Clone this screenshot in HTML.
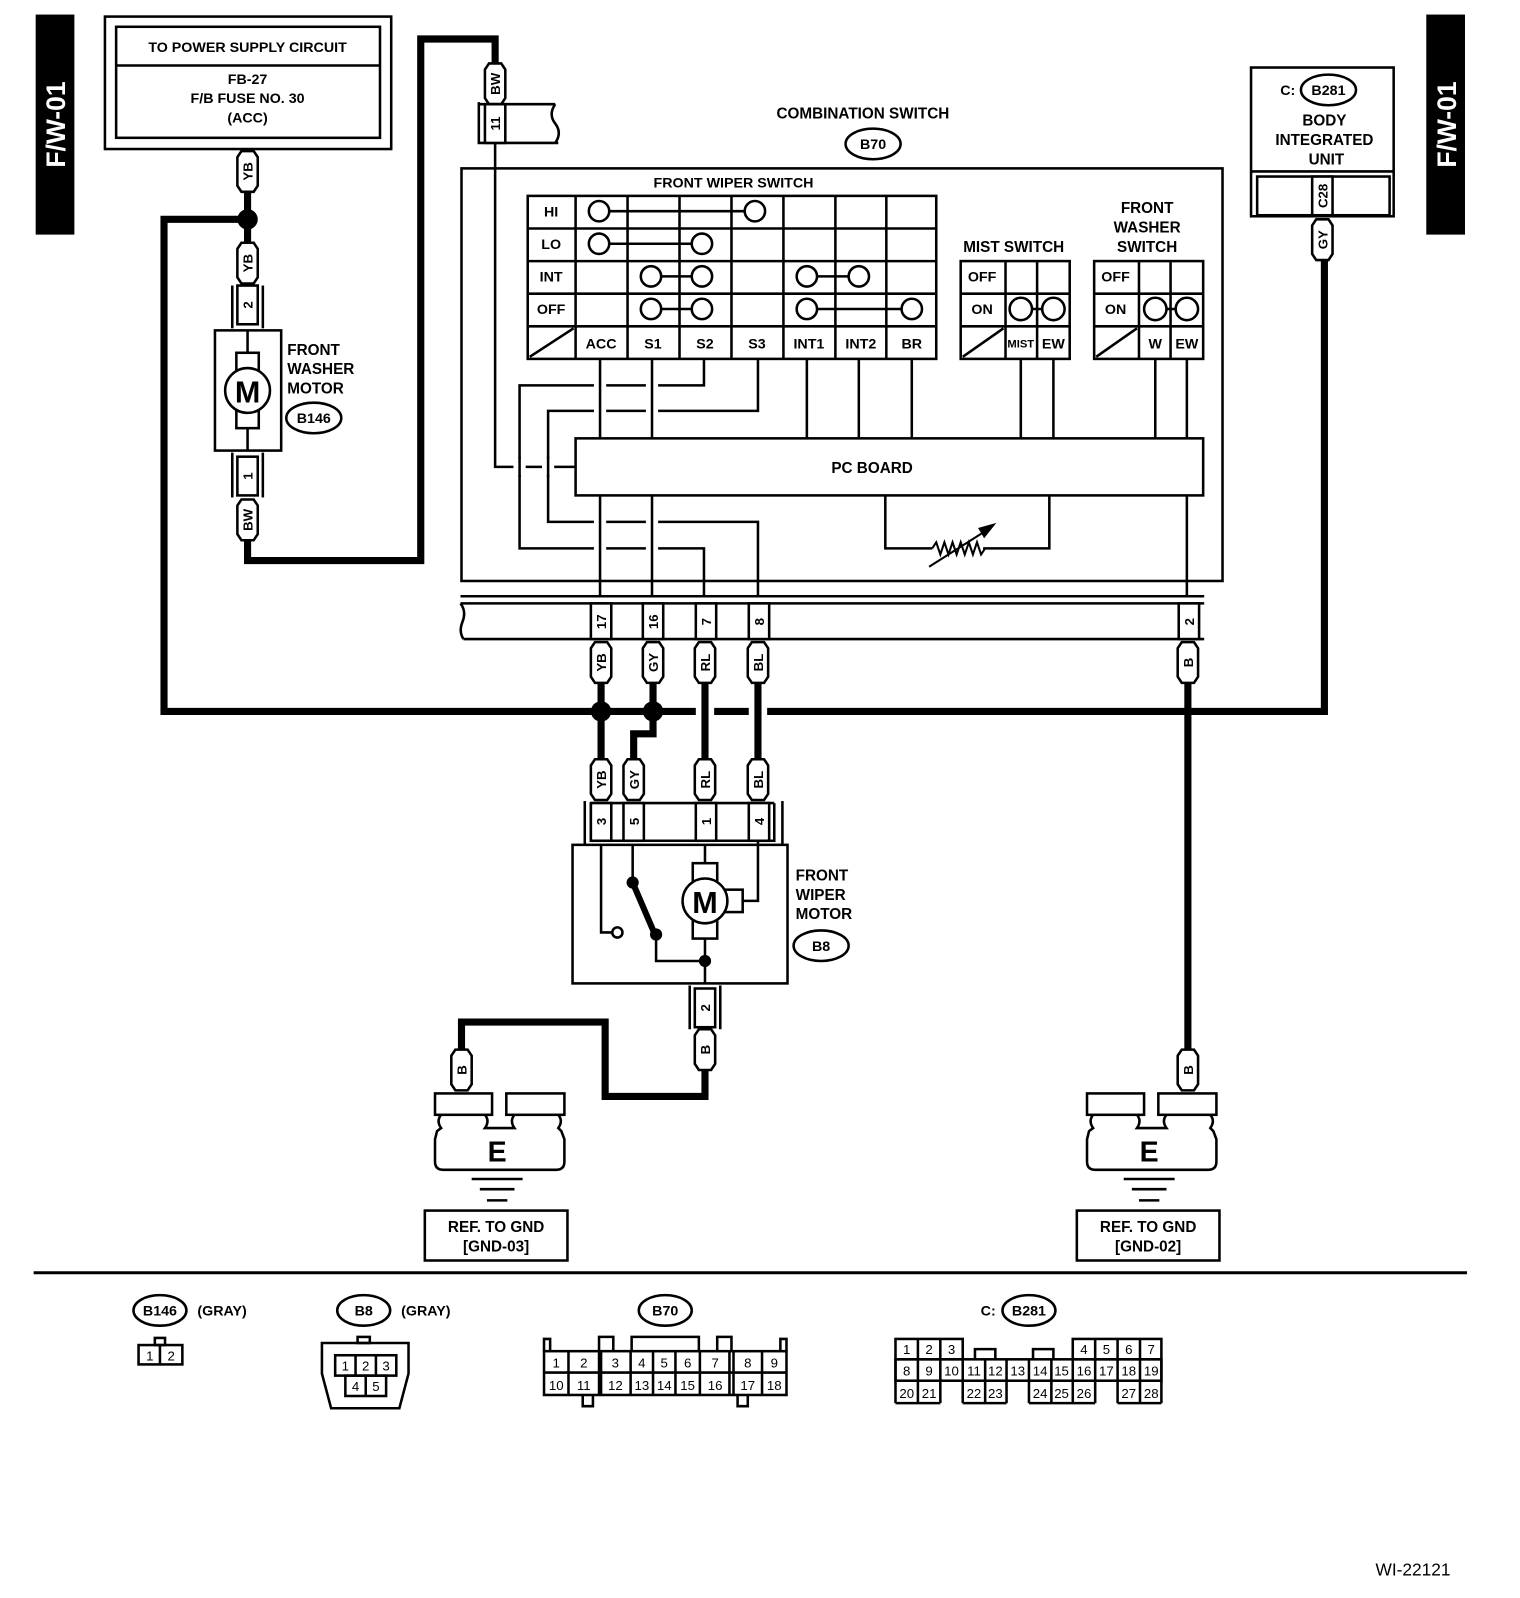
<!DOCTYPE html>
<html><head><meta charset="utf-8"><style>
html,body{margin:0;padding:0;background:#fff;}
svg{display:block;}
text{font-family:"Liberation Sans",Arial,sans-serif;fill:#000;}
text:not([font-weight]){font-weight:bold;}
g[font-weight="normal"] text{font-weight:normal;}
.t{stroke:#000;stroke-width:2.5;fill:none;}
.k{stroke:#000;stroke-width:7;fill:none;}
.h{stroke:#fff;stroke-width:12;fill:none;}
.bx{stroke:#000;stroke-width:2.5;fill:#fff;}
</style></head><body>
<svg width="1520" height="1598" viewBox="0 0 1492 1568" xmlns="http://www.w3.org/2000/svg">
<defs>
<path id="tag" d="M-10,-14 L-6,-20 L6,-20 L10,-14 L10,14 L6,20 L-6,20 L-10,14Z" fill="#fff" stroke="#000" stroke-width="2.5"/>
</defs>

<rect x="35" y="14" width="38" height="216" fill="#000"/>
<text transform="translate(64,122) rotate(-90)" text-anchor="middle" font-size="26" style="fill:#fff">F/W-01</text>
<rect x="1400" y="14" width="38" height="216" fill="#000"/>
<text transform="translate(1429,122) rotate(-90)" text-anchor="middle" font-size="26" style="fill:#fff">F/W-01</text>

<rect x="103" y="16" width="281" height="130" class="t"/>
<rect x="114" y="26" width="259" height="109" class="t"/>
<line x1="114" y1="64" x2="373" y2="64" class="t"/>
<text x="243" y="51" text-anchor="middle" font-size="14">TO POWER SUPPLY CIRCUIT</text>
<text x="243" y="82" text-anchor="middle" font-size="14">FB-27</text>
<text x="243" y="101" text-anchor="middle" font-size="14">F/B FUSE NO. 30</text>
<text x="243" y="120" text-anchor="middle" font-size="14">(ACC)</text>

<polyline points="243,188 243,240" class="k"/>
<polyline points="243,215 161,215 161,698 1300,698 1300,255" class="k"/>
<polyline points="243,530 243,550 413,550 413,38 486,38 486,62" class="k"/>
<circle cx="243" cy="215" r="10" fill="#000"/>

<g transform="translate(243,168)"><use href="#tag"/><text transform="rotate(-90)" y="5" text-anchor="middle" font-size="13">YB</text></g>
<g transform="translate(243,258)"><use href="#tag"/><text transform="rotate(-90)" y="5" text-anchor="middle" font-size="13">YB</text></g>

<line x1="228" y1="280" x2="228" y2="322" class="t"/><line x1="258" y1="280" x2="258" y2="322" class="t"/>
<rect x="233" y="280" width="20" height="38" class="bx"/>
<text transform="translate(248,299) rotate(-90)" text-anchor="middle" font-size="13">2</text>
<rect x="211" y="324" width="65" height="118" class="t"/>
<line x1="243" y1="324" x2="243" y2="442" class="t"/>
<rect x="232" y="346" width="22" height="74" class="bx"/>
<circle cx="243" cy="383" r="22" class="bx"/>
<text x="243" y="395" text-anchor="middle" font-size="30">M</text>
<line x1="228" y1="444" x2="228" y2="488" class="t"/><line x1="258" y1="444" x2="258" y2="488" class="t"/>
<rect x="233" y="448" width="20" height="38" class="bx"/>
<text transform="translate(248,467) rotate(-90)" text-anchor="middle" font-size="13">1</text>
<g transform="translate(243,510)"><use href="#tag"/><text transform="rotate(-90)" y="5" text-anchor="middle" font-size="13">BW</text></g>
<text x="282" y="348" font-size="15">FRONT</text>
<text x="282" y="367" font-size="15">WASHER</text>
<text x="282" y="386" font-size="15">MOTOR</text>
<ellipse cx="308" cy="410" rx="27" ry="15" class="t"/>
<text x="308" y="415" text-anchor="middle" font-size="14">B146</text>

<g transform="translate(486,82)"><use href="#tag"/><text transform="rotate(-90)" y="5" text-anchor="middle" font-size="13">BW</text></g>
<polyline points="470,100 470,140 548,140" class="t"/>
<line x1="470" y1="102" x2="545" y2="102" class="t"/>
<path d="M545,102 Q538,112 545,121 Q552,130 545,140" class="t"/>
<rect x="476" y="102" width="20" height="38" class="bx"/>
<text transform="translate(491,121) rotate(-90)" text-anchor="middle" font-size="13">11</text>

<text x="847" y="116" text-anchor="middle" font-size="15">COMBINATION SWITCH</text>
<ellipse cx="857" cy="141" rx="27" ry="15" class="t"/>
<text x="857" y="146" text-anchor="middle" font-size="14">B70</text>
<rect x="453" y="165" width="747" height="405" class="t"/>

<text x="720" y="184" text-anchor="middle" font-size="14">FRONT WIPER SWITCH</text>
<rect x="518" y="192" width="401" height="160" class="t" stroke-width="3"/>
<g class="t">
<line x1="565" y1="192" x2="565" y2="352"/><line x1="616" y1="192" x2="616" y2="352"/>
<line x1="667" y1="192" x2="667" y2="352"/><line x1="718" y1="192" x2="718" y2="352"/>
<line x1="769" y1="192" x2="769" y2="352"/><line x1="820" y1="192" x2="820" y2="352"/>
<line x1="870" y1="192" x2="870" y2="352"/>
<line x1="518" y1="224" x2="919" y2="224"/><line x1="518" y1="256" x2="919" y2="256"/>
<line x1="518" y1="288" x2="919" y2="288"/><line x1="518" y1="320" x2="919" y2="320"/>
<line x1="520" y1="350" x2="563" y2="322"/>
<line x1="588" y1="207" x2="741" y2="207"/><line x1="588" y1="239" x2="689" y2="239"/>
<line x1="639" y1="271" x2="689" y2="271"/><line x1="792" y1="271" x2="843" y2="271"/>
<line x1="639" y1="303" x2="689" y2="303"/><line x1="792" y1="303" x2="895" y2="303"/>
</g>
<g class="bx">
<circle cx="588" cy="207" r="10"/><circle cx="741" cy="207" r="10"/>
<circle cx="588" cy="239" r="10"/><circle cx="689" cy="239" r="10"/>
<circle cx="639" cy="271" r="10"/><circle cx="689" cy="271" r="10"/>
<circle cx="792" cy="271" r="10"/><circle cx="843" cy="271" r="10"/>
<circle cx="639" cy="303" r="10"/><circle cx="689" cy="303" r="10"/>
<circle cx="792" cy="303" r="10"/><circle cx="895" cy="303" r="10"/>
</g>
<g font-size="14" text-anchor="middle">
<text x="541" y="212">HI</text><text x="541" y="244">LO</text>
<text x="541" y="276">INT</text><text x="541" y="308">OFF</text>
<text x="590" y="342">ACC</text><text x="641" y="342">S1</text><text x="692" y="342">S2</text>
<text x="743" y="342">S3</text><text x="794" y="342">INT1</text><text x="845" y="342">INT2</text><text x="895" y="342">BR</text>
</g>

<g class="t">
<polyline points="691,352 691,378 510,378 510,538 691,538 691,585"/>
<polyline points="744,352 744,403 538,403 538,512 744,512 744,585"/>
<polyline points="486,140 486,458 565,458"/>
<line x1="792" y1="352" x2="792" y2="430"/><line x1="843" y1="352" x2="843" y2="430"/><line x1="895" y1="352" x2="895" y2="430"/>
<line x1="1002" y1="352" x2="1002" y2="430"/><line x1="1034" y1="352" x2="1034" y2="430"/>
<line x1="1134" y1="352" x2="1134" y2="430"/><line x1="1165" y1="352" x2="1165" y2="430"/>
<line x1="1165" y1="486" x2="1165" y2="585"/>
<polyline points="869,486 869,538 915,538"/>
<polyline points="965,538 1030,538 1030,486"/>
<polyline points="915,538 919,532 923,544 927,532 931,544 935,532 939,544 943,532 947,544 951,532 955,544 959,532 963,544 967,538" stroke-width="2"/>
<line x1="912" y1="556" x2="972" y2="518" stroke-width="2"/>
</g>
<polygon points="978,513 960,518 966,528" fill="#000"/>
<g class="h">
<line x1="589" y1="370" x2="589" y2="410"/><line x1="640" y1="370" x2="640" y2="410"/>
<line x1="589" y1="505" x2="589" y2="545"/><line x1="640" y1="505" x2="640" y2="545"/>
<line x1="510" y1="450" x2="510" y2="466"/><line x1="538" y1="450" x2="538" y2="466"/>
</g>
<g class="t">
<line x1="589" y1="352" x2="589" y2="430"/><line x1="640" y1="352" x2="640" y2="430"/>
<line x1="589" y1="486" x2="589" y2="585"/><line x1="640" y1="486" x2="640" y2="585"/>
<line x1="510" y1="448" x2="510" y2="468"/><line x1="538" y1="448" x2="538" y2="468"/>
</g>
<rect x="565" y="430" width="616" height="56" class="bx"/>
<text x="856" y="464" text-anchor="middle" font-size="15">PC BOARD</text>

<text x="995" y="247" text-anchor="middle" font-size="15">MIST SWITCH</text>
<rect x="943" y="256" width="107" height="96" class="t" stroke-width="3"/>
<g class="t">
<line x1="987" y1="256" x2="987" y2="352"/><line x1="1018" y1="256" x2="1018" y2="352"/>
<line x1="943" y1="288" x2="1050" y2="288"/><line x1="943" y1="320" x2="1050" y2="320"/>
<line x1="945" y1="350" x2="985" y2="322"/><line x1="1002" y1="303" x2="1034" y2="303"/>
</g>
<circle cx="1002" cy="303" r="11" class="bx"/><circle cx="1034" cy="303" r="11" class="bx"/>
<text x="964" y="276" text-anchor="middle" font-size="14">OFF</text>
<text x="964" y="308" text-anchor="middle" font-size="14">ON</text>
<text x="1002" y="341" text-anchor="middle" font-size="11">MIST</text>
<text x="1034" y="342" text-anchor="middle" font-size="14">EW</text>

<text x="1126" y="209" text-anchor="middle" font-size="15">FRONT</text>
<text x="1126" y="228" text-anchor="middle" font-size="15">WASHER</text>
<text x="1126" y="247" text-anchor="middle" font-size="15">SWITCH</text>
<rect x="1074" y="256" width="107" height="96" class="t" stroke-width="3"/>
<g class="t">
<line x1="1118" y1="256" x2="1118" y2="352"/><line x1="1149" y1="256" x2="1149" y2="352"/>
<line x1="1074" y1="288" x2="1181" y2="288"/><line x1="1074" y1="320" x2="1181" y2="320"/>
<line x1="1076" y1="350" x2="1116" y2="322"/><line x1="1134" y1="303" x2="1165" y2="303"/>
</g>
<circle cx="1134" cy="303" r="11" class="bx"/><circle cx="1165" cy="303" r="11" class="bx"/>
<text x="1095" y="276" text-anchor="middle" font-size="14">OFF</text>
<text x="1095" y="308" text-anchor="middle" font-size="14">ON</text>
<text x="1134" y="342" text-anchor="middle" font-size="14">W</text>
<text x="1165" y="342" text-anchor="middle" font-size="14">EW</text>

<rect x="1228" y="66" width="140" height="146" class="t"/>
<line x1="1228" y1="168" x2="1368" y2="168" class="t"/>
<rect x="1234" y="173" width="130" height="38" class="t"/>
<rect x="1288" y="173" width="20" height="38" class="bx"/>
<text transform="translate(1303,192) rotate(-90)" text-anchor="middle" font-size="13">C28</text>
<text x="1264" y="93" text-anchor="middle" font-size="14">C:</text>
<ellipse cx="1304" cy="88" rx="27" ry="15" class="t"/>
<text x="1304" y="93" text-anchor="middle" font-size="14">B281</text>
<text x="1300" y="123" text-anchor="middle" font-size="15">BODY</text>
<text x="1300" y="142" text-anchor="middle" font-size="15">INTEGRATED</text>
<text x="1302" y="161" text-anchor="middle" font-size="15">UNIT</text>
<g transform="translate(1298,235)"><use href="#tag"/><text transform="rotate(-90)" y="5" text-anchor="middle" font-size="13">GY</text></g>

<path d="M452,585 L1182,585 M452,592 L1182,592 M455,627 L1182,627" class="t"/>
<path d="M452,592 Q458,600 454,610 Q450,620 455,627" class="t"/>
<g>
<rect x="580" y="592" width="20" height="35" class="bx"/><text transform="translate(595,610) rotate(-90)" text-anchor="middle" font-size="13">17</text>
<rect x="631" y="592" width="20" height="35" class="bx"/><text transform="translate(646,610) rotate(-90)" text-anchor="middle" font-size="13">16</text>
<rect x="683" y="592" width="20" height="35" class="bx"/><text transform="translate(698,610) rotate(-90)" text-anchor="middle" font-size="13">7</text>
<rect x="735" y="592" width="20" height="35" class="bx"/><text transform="translate(750,610) rotate(-90)" text-anchor="middle" font-size="13">8</text>
<rect x="1157" y="592" width="20" height="35" class="bx"/><text transform="translate(1172,610) rotate(-90)" text-anchor="middle" font-size="13">2</text>
</g>

<line x1="590" y1="670" x2="590" y2="745" class="k"/>
<polyline points="641,670 641,720 622,720 622,745" class="k"/>
<g stroke="#fff" stroke-width="18"><line x1="692" y1="690" x2="692" y2="706"/><line x1="744" y1="690" x2="744" y2="706"/></g>
<line x1="692" y1="670" x2="692" y2="745" class="k"/>
<line x1="744" y1="670" x2="744" y2="745" class="k"/>
<line x1="1166" y1="670" x2="1166" y2="1030" class="k"/>
<circle cx="590" cy="698" r="10" fill="#000"/><circle cx="641" cy="698" r="10" fill="#000"/>

<g font-size="13" text-anchor="middle">
<g transform="translate(590,650)"><use href="#tag"/><text transform="rotate(-90)" y="5">YB</text></g>
<g transform="translate(641,650)"><use href="#tag"/><text transform="rotate(-90)" y="5">GY</text></g>
<g transform="translate(692,650)"><use href="#tag"/><text transform="rotate(-90)" y="5">RL</text></g>
<g transform="translate(744,650)"><use href="#tag"/><text transform="rotate(-90)" y="5">BL</text></g>
<g transform="translate(1166,650)"><use href="#tag"/><text transform="rotate(-90)" y="5">B</text></g>
<g transform="translate(590,765)"><use href="#tag"/><text transform="rotate(-90)" y="5">YB</text></g>
<g transform="translate(622,765)"><use href="#tag"/><text transform="rotate(-90)" y="5">GY</text></g>
<g transform="translate(692,765)"><use href="#tag"/><text transform="rotate(-90)" y="5">RL</text></g>
<g transform="translate(744,765)"><use href="#tag"/><text transform="rotate(-90)" y="5">BL</text></g>
</g>

<line x1="574" y1="786" x2="574" y2="829" class="t"/><line x1="768" y1="786" x2="768" y2="829" class="t"/>
<polyline points="580,788 580,825 760,825 760,788" class="t"/>
<line x1="580" y1="788" x2="760" y2="788" class="t"/>
<g>
<rect x="580" y="788" width="20" height="37" class="bx"/><text transform="translate(595,806) rotate(-90)" text-anchor="middle" font-size="13">3</text>
<rect x="612" y="788" width="20" height="37" class="bx"/><text transform="translate(627,806) rotate(-90)" text-anchor="middle" font-size="13">5</text>
<rect x="683" y="788" width="20" height="37" class="bx"/><text transform="translate(698,806) rotate(-90)" text-anchor="middle" font-size="13">1</text>
<rect x="735" y="788" width="20" height="37" class="bx"/><text transform="translate(750,806) rotate(-90)" text-anchor="middle" font-size="13">4</text>
</g>

<rect x="562" y="829" width="211" height="136" class="t"/>
<g class="t">
<polyline points="590,829 590,915 601,915"/>
<line x1="621" y1="829" x2="621" y2="866"/>
<line x1="621" y1="866" x2="642" y2="915" stroke-width="6"/>
<polyline points="644,917 644,943 692,943"/>
<line x1="692" y1="829" x2="692" y2="965"/>
<polyline points="744,825 744,884 729,884"/>
</g>
<circle cx="606" cy="915" r="5" class="bx"/>
<circle cx="621" cy="866" r="6" fill="#000"/>
<circle cx="644" cy="917" r="6" fill="#000"/>
<circle cx="692" cy="943" r="6" fill="#000"/>
<rect x="680" y="847" width="24" height="74" class="bx"/>
<rect x="711" y="873" width="18" height="22" class="bx"/>
<circle cx="692" cy="884" r="22" class="bx"/>
<text x="692" y="896" text-anchor="middle" font-size="30">M</text>
<text x="781" y="864" font-size="15">FRONT</text>
<text x="781" y="883" font-size="15">WIPER</text>
<text x="781" y="902" font-size="15">MOTOR</text>
<ellipse cx="806" cy="928" rx="27" ry="15" class="t"/>
<text x="806" y="933" text-anchor="middle" font-size="14">B8</text>

<line x1="677" y1="967" x2="677" y2="1010" class="t"/><line x1="707" y1="967" x2="707" y2="1010" class="t"/>
<rect x="682" y="970" width="20" height="38" class="bx"/><text transform="translate(697,989) rotate(-90)" text-anchor="middle" font-size="13">2</text>
<polyline points="692,1050 692,1076 594,1076 594,1003 453,1003 453,1030" class="k"/>
<g transform="translate(692,1030)"><use href="#tag"/><text transform="rotate(-90)" y="5" text-anchor="middle" font-size="13">B</text></g>
<g transform="translate(453,1050)"><use href="#tag"/><text transform="rotate(-90)" y="5" text-anchor="middle" font-size="13">B</text></g>
<g transform="translate(1166,1050)"><use href="#tag"/><text transform="rotate(-90)" y="5" text-anchor="middle" font-size="13">B</text></g>

<g>
<rect x="427" y="1073" width="56" height="21" class="bx"/>
<rect x="497" y="1073" width="57" height="21" class="bx"/>
<path d="M433,1094 Q428,1100 433,1107 L429,1110 L427,1118 L427,1140 Q427,1148 435,1148 L546,1148 Q554,1148 554,1140 L554,1118 L551,1110 L548,1107 Q553,1100 548,1094 M505,1094 Q500,1100 505,1107 L476,1107 Q481,1100 476,1094" class="t"/>
<text x="488" y="1140" text-anchor="middle" font-size="28">E</text>
<line x1="463" y1="1157" x2="513" y2="1157" class="t"/>
<line x1="471" y1="1167" x2="505" y2="1167" class="t"/>
<line x1="478" y1="1178" x2="498" y2="1178" class="t"/>
<rect x="417" y="1188" width="140" height="49" class="t"/>
<text x="487" y="1209" text-anchor="middle" font-size="15">REF. TO GND</text>
<text x="487" y="1228" text-anchor="middle" font-size="15">[GND-03]</text>
</g>
<g transform="translate(640,0)">
<rect x="427" y="1073" width="56" height="21" class="bx"/>
<rect x="497" y="1073" width="57" height="21" class="bx"/>
<path d="M433,1094 Q428,1100 433,1107 L429,1110 L427,1118 L427,1140 Q427,1148 435,1148 L546,1148 Q554,1148 554,1140 L554,1118 L551,1110 L548,1107 Q553,1100 548,1094 M505,1094 Q500,1100 505,1107 L476,1107 Q481,1100 476,1094" class="t"/>
<text x="488" y="1140" text-anchor="middle" font-size="28">E</text>
<line x1="463" y1="1157" x2="513" y2="1157" class="t"/>
<line x1="471" y1="1167" x2="505" y2="1167" class="t"/>
<line x1="478" y1="1178" x2="498" y2="1178" class="t"/>
<rect x="417" y="1188" width="140" height="49" class="t"/>
<text x="487" y="1209" text-anchor="middle" font-size="15">REF. TO GND</text>
<text x="487" y="1228" text-anchor="middle" font-size="15">[GND-02]</text>
</g>

<line x1="33" y1="1249" x2="1440" y2="1249" stroke="#000" stroke-width="3"/>

<ellipse cx="157" cy="1286" rx="26" ry="15" class="t"/>
<text x="157" y="1291" text-anchor="middle" font-size="14">B146</text>
<text x="218" y="1291" text-anchor="middle" font-size="14">(GRAY)</text>
<rect x="152" y="1313" width="10" height="7" class="t" stroke-width="1.5"/>
<rect x="136" y="1320" width="43" height="19" class="t" stroke-width="2"/>
<line x1="157" y1="1320" x2="157" y2="1339" class="t" stroke-width="2"/>
<g font-size="13" text-anchor="middle" font-weight="normal">
<text x="147" y="1335">1</text>
<text x="168" y="1335">2</text>
</g>

<ellipse cx="357" cy="1286" rx="26" ry="15" class="t"/>
<text x="357" y="1291" text-anchor="middle" font-size="14">B8</text>
<text x="418" y="1291" text-anchor="middle" font-size="14">(GRAY)</text>
<rect x="351" y="1312" width="12" height="6" class="t" stroke-width="1.5"/>
<path d="M316,1318 L401,1318 L401,1348 L392,1382 L325,1382 L316,1348 Z" class="t" stroke-width="2"/>
<g class="t" stroke-width="2">
<rect x="329" y="1330" width="60" height="20"/><line x1="349" y1="1330" x2="349" y2="1350"/><line x1="369" y1="1330" x2="369" y2="1350"/>
<rect x="339" y="1350" width="40" height="20"/><line x1="359" y1="1350" x2="359" y2="1370"/>
</g>
<g font-size="13" text-anchor="middle" font-weight="normal">
<text x="339" y="1345">1</text><text x="359" y="1345">2</text><text x="379" y="1345">3</text>
<text x="349" y="1365">4</text><text x="369" y="1365">5</text>
</g>

<ellipse cx="653" cy="1286" rx="26" ry="15" class="t"/>
<text x="653" y="1291" text-anchor="middle" font-size="14">B70</text>
<g class="t" stroke-width="2">
<rect x="534" y="1326" width="238" height="43"/>
<line x1="534" y1="1347" x2="772" y2="1347"/>
<line x1="558" y1="1326" x2="558" y2="1369"/><line x1="588" y1="1326" x2="588" y2="1369"/><line x1="590" y1="1326" x2="590" y2="1369"/>
<line x1="619" y1="1326" x2="619" y2="1369"/><line x1="641" y1="1326" x2="641" y2="1369"/><line x1="663" y1="1326" x2="663" y2="1369"/>
<line x1="687" y1="1326" x2="687" y2="1369"/><line x1="716" y1="1326" x2="716" y2="1369"/><line x1="720" y1="1326" x2="720" y2="1369"/>
<line x1="748" y1="1326" x2="748" y2="1369"/>
<polyline points="534,1326 534,1314 540,1314 540,1326"/><polyline points="766,1326 766,1314 772,1314 772,1326"/>
<polyline points="588,1326 588,1312 602,1312 602,1326"/><polyline points="620,1326 620,1312 686,1312 686,1326"/>
<polyline points="704,1326 704,1312 718,1312 718,1326"/>
<polyline points="572,1369 572,1380 582,1380 582,1369"/><polyline points="724,1369 724,1380 734,1380 734,1369"/>
</g>
<g font-size="13" text-anchor="middle" font-weight="normal">
<text x="546" y="1342">1</text><text x="573" y="1342">2</text><text x="604" y="1342">3</text><text x="630" y="1342">4</text>
<text x="652" y="1342">5</text><text x="675" y="1342">6</text><text x="702" y="1342">7</text><text x="734" y="1342">8</text><text x="760" y="1342">9</text>
<text x="546" y="1364">10</text><text x="573" y="1364">11</text><text x="604" y="1364">12</text><text x="630" y="1364">13</text>
<text x="652" y="1364">14</text><text x="675" y="1364">15</text><text x="702" y="1364">16</text><text x="734" y="1364">17</text><text x="760" y="1364">18</text>
</g>

<text x="970" y="1291" text-anchor="middle" font-size="14">C:</text>
<ellipse cx="1010" cy="1286" rx="26" ry="15" class="t"/>
<text x="1010" y="1291" text-anchor="middle" font-size="14">B281</text>
<g class="t" stroke-width="2">
<rect x="879" y="1314" width="66" height="20"/><line x1="901" y1="1314" x2="901" y2="1334"/><line x1="923" y1="1314" x2="923" y2="1334"/>
<rect x="1053" y="1314" width="87" height="20"/><line x1="1075" y1="1314" x2="1075" y2="1334"/><line x1="1097" y1="1314" x2="1097" y2="1334"/><line x1="1119" y1="1314" x2="1119" y2="1334"/>
<polyline points="957,1334 957,1324 977,1324 977,1334"/><polyline points="1014,1334 1014,1324 1034,1324 1034,1334"/>
<rect x="879" y="1334" width="261" height="21"/>
<line x1="901" y1="1334" x2="901" y2="1377"/><line x1="923" y1="1334" x2="923" y2="1377"/>
<line x1="945" y1="1334" x2="945" y2="1377"/><line x1="967" y1="1334" x2="967" y2="1377"/><line x1="988" y1="1334" x2="988" y2="1377"/>
<line x1="1010" y1="1334" x2="1010" y2="1377"/><line x1="1032" y1="1334" x2="1032" y2="1377"/><line x1="1053" y1="1334" x2="1053" y2="1377"/>
<line x1="1075" y1="1334" x2="1075" y2="1377"/><line x1="1097" y1="1334" x2="1097" y2="1377"/><line x1="1119" y1="1334" x2="1119" y2="1377"/>
<line x1="879" y1="1334" x2="879" y2="1377"/><line x1="1140" y1="1334" x2="1140" y2="1377"/>
<line x1="879" y1="1377" x2="923" y2="1377"/><line x1="945" y1="1377" x2="988" y2="1377"/><line x1="1010" y1="1377" x2="1075" y2="1377"/><line x1="1097" y1="1377" x2="1140" y2="1377"/>
</g>
<g font-size="13" text-anchor="middle" font-weight="normal">
<text x="890" y="1329">1</text><text x="912" y="1329">2</text><text x="934" y="1329">3</text>
<text x="1064" y="1329">4</text><text x="1086" y="1329">5</text><text x="1108" y="1329">6</text><text x="1130" y="1329">7</text>
<text x="890" y="1350">8</text><text x="912" y="1350">9</text><text x="934" y="1350">10</text><text x="956" y="1350">11</text>
<text x="977" y="1350">12</text><text x="999" y="1350">13</text><text x="1021" y="1350">14</text><text x="1042" y="1350">15</text>
<text x="1064" y="1350">16</text><text x="1086" y="1350">17</text><text x="1108" y="1350">18</text><text x="1130" y="1350">19</text>
<text x="890" y="1372">20</text><text x="912" y="1372">21</text><text x="956" y="1372">22</text><text x="977" y="1372">23</text>
<text x="1021" y="1372">24</text><text x="1042" y="1372">25</text><text x="1064" y="1372">26</text><text x="1108" y="1372">27</text><text x="1130" y="1372">28</text>
</g>

<g font-weight="normal"><text x="1387" y="1546" text-anchor="middle" font-size="17">WI-22121</text></g>
</svg>
</body></html>
